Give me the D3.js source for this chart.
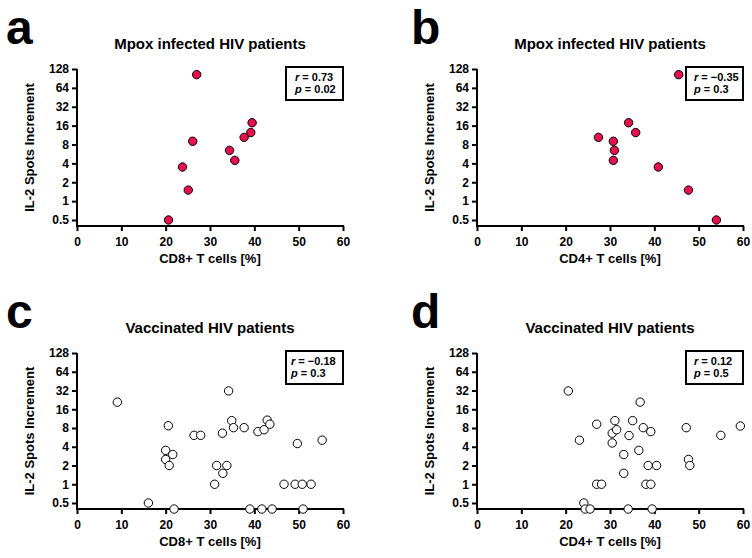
<!DOCTYPE html>
<html><head><meta charset="utf-8">
<script src="https://cdn.jsdelivr.net/npm/d3@7"></script>
<style>
html,body{margin:0;padding:0;background:#fff;}
svg text{font-family:"Liberation Sans",Arial,Helvetica,sans-serif;font-weight:bold;fill:#000;}
</style></head>
<body>
<svg id="chart" width="752" height="558"></svg>
<script>
// ---------- data ----------
const xTicks = [0, 10, 20, 30, 40, 50, 60];
const yTicks = [0.5, 1, 2, 4, 8, 16, 32, 64, 128];
const yTickLabels = ["0.5", "1", "2", "4", "8", "16", "32", "64", "128"];

// panel a: Mpox infected, CD8+
const aX = [27.0, 26.1, 23.8, 25.1, 20.65, 34.4, 35.6, 37.7, 39.2, 39.5];
const aY = [104, 9.0, 3.5, 1.5, 0.5, 6.45, 4.47, 10.4, 12.4, 17.8];
// panel b: Mpox infected, CD4+
const bX = [45.5, 27.4, 30.75, 31.0, 30.75, 34.2, 35.8, 40.9, 47.7, 54.0];
const bY = [104, 10.4, 9.0, 6.45, 4.47, 17.8, 12.4, 3.5, 1.5, 0.5];
// panel c: Vaccinated, CD8+
const cX = [9.1, 16.1, 20.6, 20.0, 21.6, 20.0, 20.8, 21.9, 26.4, 27.9, 31.05, 31.5, 32.9, 32.8, 33.8, 34.2, 34.9,
            35.3, 37.7, 39.0, 40.8, 42.2, 41.7, 42.9, 43.5, 44.0, 46.7, 49.2, 50.8, 52.8, 49.7, 51.0, 55.3];
const cY = [20.8, 0.5, 8.7, 3.5, 3.0, 2.5, 2.0, 0.4, 6.1, 6.1, 1.0, 2.0, 1.5, 6.6, 2.0, 31.5, 10.5,
            8.1, 8.1, 0.4, 7.0, 7.5, 0.4, 10.7, 9.2, 0.4, 1.0, 1.0, 1.0, 1.0, 4.5, 0.4, 5.1];
// panel d: Vaccinated, CD4+
const dX = [20.6, 23.1, 24.1, 24.4, 25.5, 27.0, 28.1, 27.0, 30.5, 30.5, 31.1, 31.5, 33.1, 33.1, 34.3, 34.1,
            35.1, 36.8, 36.5, 37.5, 38.1, 38.6, 39.2, 39.2, 39.5, 40.5, 47.2, 47.7, 48.0, 55.0, 59.4];
const dY = [31.5, 5.1, 0.5, 0.4, 0.4, 1.0, 1.0, 9.2, 4.6, 6.6, 10.5, 7.5, 3.0, 1.5, 6.06, 0.4,
            10.5, 20.8, 3.5, 8.1, 1.0, 2.0, 7.0, 1.0, 0.4, 2.0, 8.1, 2.5, 2.0, 6.1, 8.6];

const letters = ["a", "b", "c", "d"];
const titles = ["Mpox infected HIV patients", "Mpox infected HIV patients", "Vaccinated HIV patients", "Vaccinated HIV patients"];
const xLabels = ["CD8+ T cells [%]", "CD4+ T cells [%]", "CD8+ T cells [%]", "CD4+ T cells [%]"];
const yLabel = "IL-2 Spots Increment";
const rValues = ["0.73", "\u22120.35", "\u22120.18", "0.12"];
const pValues = ["0.02", "0.3", "0.3", "0.5"];
const fills = ["#E5104D", "#E5104D", "#ffffff", "#ffffff"];

// ---------- layout ----------
const panels = [
  {xs: aX, ys: aY, x0: 77,  x1: 343, yTop: 69,  y05: 220, letterX: 6,   pad: 9},
  {xs: bX, ys: bY, x0: 477, x1: 743, yTop: 69,  y05: 220, letterX: 411, pad: 8},
  {xs: cX, ys: cY, x0: 77,  x1: 343, yTop: 353, y05: 503, letterX: 6,   pad: 5},
  {xs: dX, ys: dY, x0: 477, x1: 743, yTop: 353, y05: 503, letterX: 411, pad: 8}
];

const svg = d3.select("#chart");

panels.forEach((p, i) => {
  const octave = (p.y05 - p.yTop) / 8;
  const yBottom = p.y05 + octave * (Math.log2(0.5) - Math.log2(0.4));
  const x = d3.scaleLinear().domain([0, 60]).range([p.x0, p.x1]);
  const y = d3.scaleLog().base(2).domain([0.4, 128]).range([yBottom, p.yTop]);
  const g = svg.append("g");

  // panel letter
  g.append("text").attr("x", p.letterX).attr("y", p.yTop - 25)
    .attr("font-size", 48).text(letters[i]);
  // title
  g.append("text").attr("x", (p.x0 + p.x1) / 2).attr("y", p.yTop - 20)
    .attr("text-anchor", "middle").attr("font-size", 15).text(titles[i]);

  // axes
  const xAxis = d3.axisBottom(x).tickValues(xTicks).tickSize(5).tickSizeOuter(0).tickPadding(4);
  const yAxis = d3.axisLeft(y).tickValues(yTicks).tickSize(5).tickSizeOuter(0).tickPadding(3)
    .tickFormat((d, k) => yTickLabels[k]);
  const gx = g.append("g").attr("transform", `translate(0,${yBottom})`).call(xAxis);
  const gy = g.append("g").attr("transform", `translate(${p.x0},0)`).call(yAxis);
  [gx, gy].forEach(a => {
    a.select(".domain").attr("stroke", "#000").attr("stroke-width", 2);
    a.selectAll(".tick line").attr("stroke", "#000").attr("stroke-width", 2);
    a.selectAll(".tick text").attr("font-size", 12)
      .attr("font-family", "'Liberation Sans',Arial,sans-serif").attr("font-weight", "bold").attr("fill", "#000");
  });
  gx.selectAll(".tick text").attr("dy", "0.95em");
  gx.select(".domain").attr("d", `M${p.x0 - 1},0H${p.x1 + 1}`);
  gy.select(".domain").attr("d", `M0,${p.yTop}V${yBottom}`);

  // axis titles
  g.append("text").attr("x", (p.x0 + p.x1) / 2).attr("y", yBottom + 37)
    .attr("text-anchor", "middle").attr("font-size", 13).text(xLabels[i]);
  g.append("text")
    .attr("transform", `translate(${p.x0 - 43},${(p.yTop + yBottom) / 2}) rotate(-90)`)
    .attr("text-anchor", "middle").attr("font-size", 13).text(yLabel);

  // points
  g.append("g").selectAll("circle").data(p.xs.map((v, k) => [v, p.ys[k]])).join("circle")
    .attr("cx", d => x(d[0])).attr("cy", d => y(d[1])).attr("r", 4.2)
    .attr("fill", fills[i]).attr("stroke", "#000").attr("stroke-width", 1);

  // stats box
  const bx = p.x1 - 57, by = p.yTop - 2;
  g.append("rect").attr("x", bx).attr("y", by).attr("width", 57).attr("height", 33)
    .attr("fill", "#fff").attr("stroke", "#000").attr("stroke-width", 2);
  const t1 = g.append("text").attr("x", bx + p.pad).attr("y", by + 14).attr("font-size", 11);
  t1.append("tspan").attr("font-style", "italic").text("r");
  t1.append("tspan").text(" = " + rValues[i]);
  const t2 = g.append("text").attr("x", bx + p.pad).attr("y", by + 26).attr("font-size", 11);
  t2.append("tspan").attr("font-style", "italic").text("p");
  t2.append("tspan").text(" = " + pValues[i]);
});
</script>
</body></html>
